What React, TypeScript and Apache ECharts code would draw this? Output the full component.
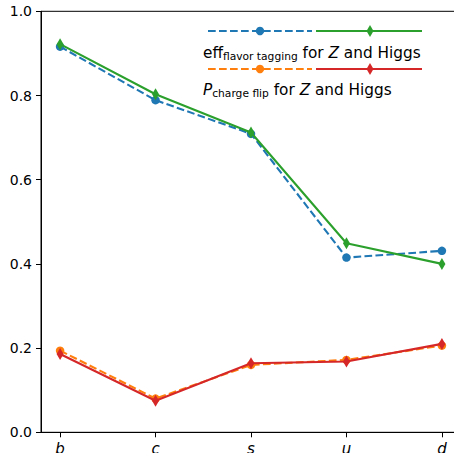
import React, { useEffect, useRef } from "react";
import * as echarts from "echarts";

const categories = ["b", "c", "s", "u", "d"];
const effZ = [0.916, 0.789, 0.709, 0.415, 0.431];
const effHiggs = [0.922, 0.803, 0.712, 0.449, 0.4];
const flipZ = [0.194, 0.08, 0.16, 0.172, 0.206];
const flipHiggs = [0.186, 0.075, 0.164, 0.168, 0.21];
const yTicks = [0, 0.2, 0.4, 0.6, 0.8, 1.0];

const BLUE = "#1f77b4";
const ORANGE = "#ff7f0e";
const GREEN = "#2ca02c";
const RED = "#d62728";
const FONT = "DejaVu Sans";
const DASH = [7.7, 3.3];

const toPts = (arr: number[]) => arr.map((v, i) => [i, v]);

const circleSeries = (name: string, data: number[], color: string) => ({
  name,
  type: "line",
  data: toPts(data),
  symbol: "circle",
  symbolSize: 8.5,
  showSymbol: true,
  lineStyle: { color, width: 2.1, type: DASH },
  itemStyle: { color, borderWidth: 0 },
  z: 2,
});

const diamondSeries = (name: string, data: number[], color: string) => ({
  name,
  type: "line",
  data: toPts(data),
  symbol: "diamond",
  symbolSize: [7, 12],
  showSymbol: true,
  lineStyle: { color, width: 2.1, type: "solid" },
  itemStyle: { color, borderWidth: 0 },
  z: 3,
});

function legendRow(y: number, c1: string, c2: string) {
  return [
    {
      type: "line",
      shape: { x1: 208, y1: y, x2: 312, y2: y },
      style: { stroke: c1, lineWidth: 2.1, lineDash: DASH },
    },
    {
      type: "circle",
      shape: { cx: 260, cy: y, r: 4.2 },
      style: { fill: c1 },
    },
    {
      type: "line",
      shape: { x1: 316, y1: y, x2: 422, y2: y },
      style: { stroke: c2, lineWidth: 2.1 },
    },
    {
      type: "polygon",
      shape: { points: [[370, y - 6], [373.5, y], [370, y + 6], [366.5, y]] },
      style: { fill: c2 },
    },
  ];
}

const rich = {
  m: { fontSize: 15.3, fontFamily: FONT, color: "#000", verticalAlign: "top", lineHeight: 15 },
  i: { fontSize: 15.3, fontFamily: FONT, fontStyle: "italic", color: "#000", verticalAlign: "top", lineHeight: 15 },
  s: { fontSize: 10.7, fontFamily: FONT, color: "#000", verticalAlign: "top", lineHeight: 10.5, padding: [6, 0, 0, 0] },
};

export default function App() {
  const ref = useRef<HTMLDivElement>(null);
  useEffect(() => {
    if (!ref.current) return;
    const chart = echarts.init(ref.current, undefined, { renderer: "svg" });
    chart.setOption({
      animation: false,
      backgroundColor: "#fff",
      grid: {
        left: 41,
        top: 11.3,
        width: 420,
        height: 421,
        show: true,
        borderColor: "#000",
        borderWidth: 1,
        backgroundColor: "transparent",
        containLabel: false,
        outerBoundsMode: "none",
      },
      xAxis: {
        type: "value",
        min: -0.2,
        max: 4.2,
        axisLine: { show: true, onZero: false, lineStyle: { color: "#000", width: 1 } },
        axisTick: {
          show: true,
          customValues: [0, 1, 2, 3, 4],
          length: 5,
          inside: false,
          lineStyle: { color: "#000", width: 1 },
        },
        axisLabel: {
          show: true,
          customValues: [0, 1, 2, 3, 4],
          formatter: (v: number) => categories[Math.round(v)] ?? "",
          fontSize: 15,
          fontFamily: FONT,
          fontStyle: "italic",
          color: "#000",
          margin: 9,
        },
        splitLine: { show: false },
      },
      yAxis: {
        type: "value",
        min: 0,
        max: 1,
        interval: 0.2,
        axisLine: { show: true, onZero: false, lineStyle: { color: "#000", width: 1 } },
        axisTick: { show: true, length: 5, inside: false, lineStyle: { color: "#000", width: 1 } },
        axisLabel: {
          formatter: (v: number) => v.toFixed(1),
          fontSize: 14,
          fontFamily: FONT,
          color: "#000",
          margin: 9,
          customValues: yTicks,
        },
        splitLine: { show: false },
      },
      series: [
        circleSeries("eff Z", effZ, BLUE),
        circleSeries("P Z", flipZ, ORANGE),
        diamondSeries("eff Higgs", effHiggs, GREEN),
        diamondSeries("P Higgs", flipHiggs, RED),
      ],
      graphic: [
        ...legendRow(31, BLUE, GREEN),
        ...legendRow(69, ORANGE, RED),
        {
          type: "text",
          style: {
            x: 203,
            y: 45.3,
            text: "{m|eff}{s|flavor tagging}{m| for }{i|Z}{m| and Higgs}",
            rich,
          },
        },
        {
          type: "text",
          style: {
            x: 203,
            y: 82.1,
            text: "{i|P}{s|charge flip}{m| for }{i|Z}{m| and Higgs}",
            rich,
          },
        },
      ],
    });
    return () => chart.dispose();
  }, []);
  return (
    <div
      ref={ref}
      style={{ position: "absolute", left: 0, top: 0, width: 454, height: 453 }}
    />
  );
}
